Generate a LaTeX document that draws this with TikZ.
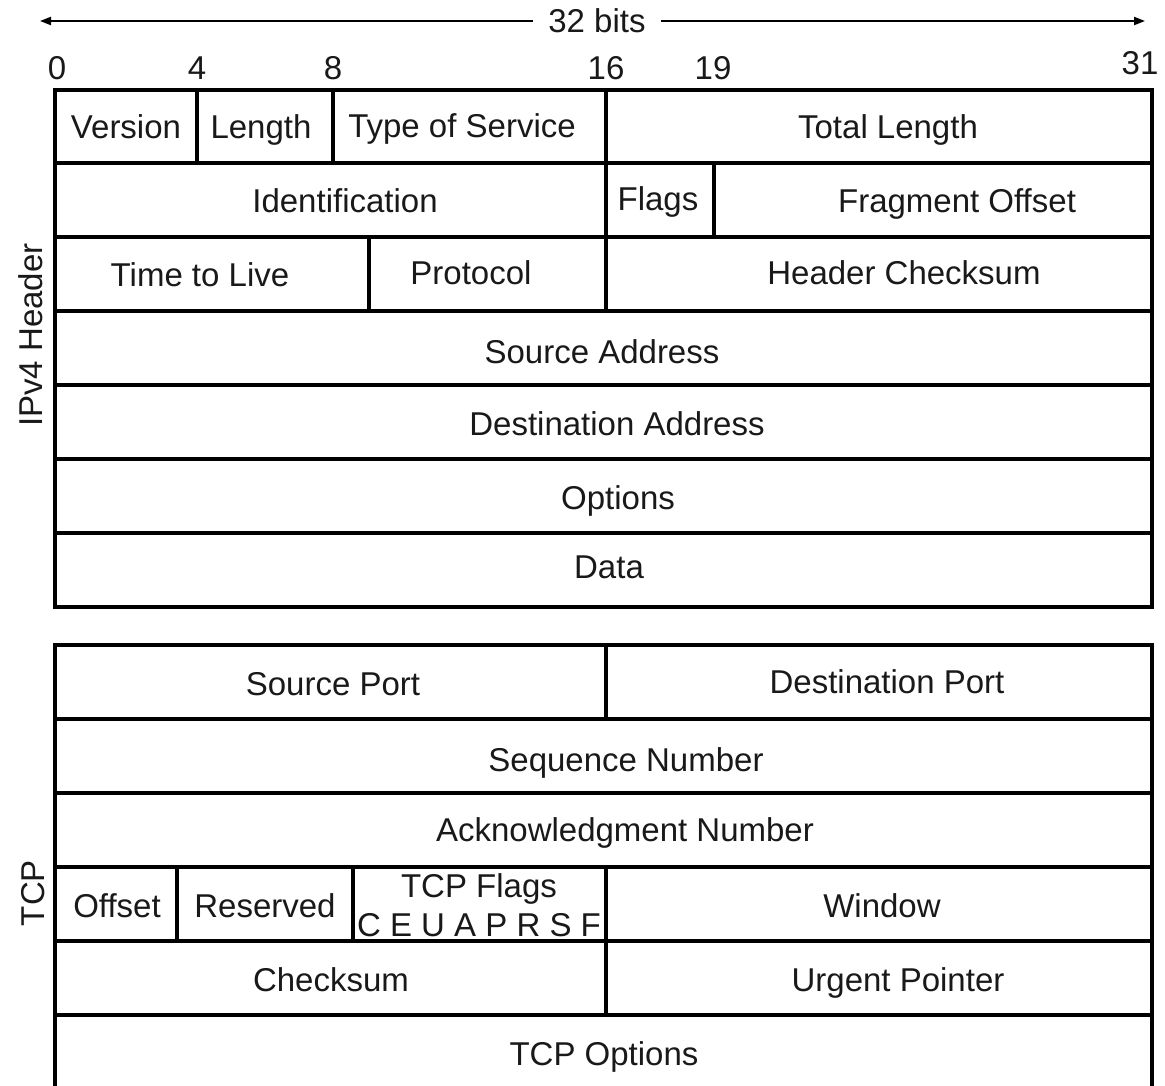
\documentclass[tikz,border=0pt]{standalone}
\usepackage{fontspec}
\setmainfont{Liberation Sans}
\usetikzlibrary{arrows.meta}
\begin{document}
\begin{tikzpicture}[x=1pt,y=-1pt,
  font=\fontsize{33}{38}\selectfont,
  grid/.style={line width=4pt, draw=black},
  txt/.style={inner sep=0pt, text height=23.6pt, text depth=0pt, anchor=center, text=black!90},
  arr/.style={line width=2pt, -{Triangle[length=11pt,width=8pt]}}]
\useasboundingbox (0,0) rectangle (1165,1085);
\clip (0,0) rectangle (1165,1085);
% width arrow
\node[txt, inner xsep=15pt] (bits) at (597,21) {32 bits};
\coordinate (aL) at (40,21);
\coordinate (aR) at (1145,21);
\draw[arr] (bits.west) -- (aL);
\draw[arr] (bits.east) -- (aR);
% bit numbers
\node[txt] (b0) at (57,68) {0};
\node[txt] (b4) at (197,68) {4};
\node[txt] (b8) at (333,68) {8};
\node[txt] (b16) at (606,68) {16};
\node[txt] (b19) at (713,68) {19};
\node[txt] (b31) at (1140,63) {31};
% IPv4 grid
\draw[grid] (55,90) rectangle (1152,607);
\foreach \y in {163,237,311,385,459,533} \draw[grid] (55,\y) -- (1152,\y);
\draw[grid] (197,90) -- (197,163);
\draw[grid] (333,90) -- (333,163);
\draw[grid] (606,90) -- (606,311);
\draw[grid] (714,163) -- (714,237);
\draw[grid] (369,237) -- (369,311);
% IPv4 labels
\node[txt] (ver) at (126,127) {Version};
\node[txt] (len) at (261,127) {Length};
\node[txt] (tos) at (462,126) {Type of Service};
\node[txt] (tlen) at (888,127) {Total Length};
\node[txt] (ident) at (345,201) {Identification};
\node[txt] (flags) at (658,199) {Flags};
\node[txt] (frag) at (957,201) {Fragment Offset};
\node[txt] (ttl) at (200,275) {Time to Live};
\node[txt] (proto) at (471,273) {Protocol};
\node[txt] (hcs) at (904,273) {Header Checksum};
\node[txt] (src) at (602,352) {Source Address};
\node[txt] (dst) at (617,424) {Destination Address};
\node[txt] (opt) at (618,498) {Options};
\node[txt] (data) at (609,567) {Data};
\node[txt, rotate=90] (ipv4) at (31,335) {IPv4 Header};
% TCP grid
\draw[grid] (55,1100) -- (55,645) -- (1152,645) -- (1152,1100);
\foreach \y in {719,793,867,941,1015} \draw[grid] (55,\y) -- (1152,\y);
\draw[grid] (606,645) -- (606,719);
\draw[grid] (177,867) -- (177,941);
\draw[grid] (353,867) -- (353,941);
\draw[grid] (606,867) -- (606,1015);
% TCP labels
\node[txt] (sport) at (333,684) {Source Port};
\node[txt] (dport) at (887,682) {Destination Port};
\node[txt] (seq) at (626,760) {Sequence Number};
\node[txt] (ack) at (625,830) {Acknowledgment Number};
\node[txt] (off) at (117,906) {Offset};
\node[txt] (res) at (265,906) {Reserved};
\node[txt] (tflags) at (479,886) {TCP Flags};
\node[txt] (fbits) at (479,925) {C E U A P R S F};
\node[txt] (win) at (882,906) {Window};
\node[txt] (cks) at (331,980) {Checksum};
\node[txt] (urg) at (898,980) {Urgent Pointer};
\node[txt] (topt) at (604,1054) {TCP Options};
\node[txt, rotate=90] (tcp) at (33,893) {TCP};
\end{tikzpicture}
\end{document}
